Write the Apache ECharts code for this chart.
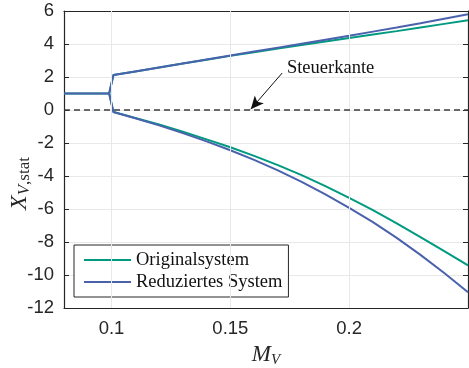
<!DOCTYPE html>
<html>
<head>
<meta charset="utf-8">
<script src="https://cdn.jsdelivr.net/npm/echarts@6/dist/echarts.min.js"></script>
<style>
html,body{margin:0;padding:0;background:#fff;}
#c{width:469px;height:368px;}
</style>
</head>
<body>
<div id="c"></div>
<script>
// ---- data ----
const seriesNames = ['Originalsystem', 'Reduziertes System'];
const mvStart = [0.08, 0.099];
const xStart = [1, 1];
const mv = [0.1008, 0.11, 0.12, 0.13, 0.14, 0.15, 0.16, 0.17, 0.18, 0.19, 0.20, 0.21, 0.22, 0.23, 0.24, 0.25];
const origUpper = [2.12, 2.34, 2.58, 2.82, 3.05, 3.28, 3.50, 3.72, 3.94, 4.15, 4.36, 4.57, 4.78, 5.00, 5.22, 5.44];
const origLower = [-0.12, -0.48, -0.88, -1.32, -1.78, -2.26, -2.78, -3.34, -3.95, -4.61, -5.32, -6.07, -6.87, -7.70, -8.55, -9.42];
const redUpper = [2.12, 2.34, 2.58, 2.82, 3.06, 3.30, 3.54, 3.78, 4.02, 4.26, 4.50, 4.75, 5.00, 5.26, 5.53, 5.80];
const redLower = [-0.12, -0.50, -0.93, -1.40, -1.90, -2.44, -3.02, -3.66, -4.36, -5.12, -5.93, -6.80, -7.75, -8.78, -9.88, -11.05];
const xTicks = [0.1, 0.15, 0.2];
const xMin = 0.08, xMax = 0.25;
const yMin = -12, yMax = 6, yStep = 2;
const steuerkante = 0;
const arrowFrom = [0.1718, 2.24];
const arrowTo = [0.1586, 0.05];
const annotText = 'Steuerkante';
const annotPos = [0.1738, 2.55];

const green = '#009a80';
const blue = '#4a62ad';
const axisCol = '#262626';
const gridCol = '#e8e8e8';

function pairs(xs, ys) { return xs.map((x, i) => [x, ys[i]]); }
const splitPt = [mvStart[mvStart.length - 1], xStart[xStart.length - 1]];

function branch(name, color, data, z) {
  return {
    name: name, type: 'line', data: data, xAxisIndex: 0, yAxisIndex: 0,
    showSymbol: false, symbol: 'none', smooth: false, z: z,
    lineStyle: { color: color, width: 2 }, itemStyle: { color: color },
    emphasis: { disabled: true }, silent: true, animation: false
  };
}

const series = [
  {
    type: 'line', data: [], silent: true, animation: false, z: 1,
    markLine: {
      silent: true, animation: false, symbol: ['none', 'none'],
      lineStyle: { color: gridCol, width: 1, type: 'solid' },
      label: { show: false },
      data: xTicks.map(v => ({ xAxis: v }))
    }
  },
  branch(seriesNames[0], green, [splitPt].concat(pairs(mv, origUpper)), 3),
  branch(seriesNames[0], green, [splitPt].concat(pairs(mv, origLower)), 3),
  branch(seriesNames[0], green, pairs(mvStart, xStart), 3),
  branch(seriesNames[1], blue, [splitPt].concat(pairs(mv, redUpper)), 4),
  branch(seriesNames[1], blue, [splitPt].concat(pairs(mv, redLower)), 4),
  branch(seriesNames[1], blue, pairs(mvStart, xStart), 4),
  {
    type: 'line', data: [], silent: true, animation: false, z: 2,
    markLine: {
      silent: true, animation: false, symbol: ['none', 'none'],
      lineStyle: { color: '#3c3c3c', width: 1.5, type: [6, 4] },
      label: { show: false },
      data: [{ yAxis: steuerkante }]
    }
  },
  {
    type: 'line', data: [], silent: true, animation: false, z: 5,
    markLine: {
      silent: true, animation: false, symbol: ['none', 'arrow'], symbolSize: [9, 13],
      lineStyle: { color: '#111', width: 1, type: 'solid' },
      label: { show: false },
      data: [[{ coord: arrowFrom }, { coord: arrowTo }]]
    },
    markPoint: {
      silent: true, animation: false, symbol: 'circle', symbolSize: 0,
      label: {
        show: true, position: 'right', distance: 0, formatter: annotText,
        fontFamily: 'Liberation Serif', fontSize: 18.5, color: '#111'
      },
      data: [{ coord: annotPos }]
    }
  }
];

const chart = echarts.init(document.getElementById('c'), null, { renderer: 'canvas' });
chart.setOption({
  animation: false,
  backgroundColor: '#fff',
  grid: { left: 64, right: 1, top: 11, bottom: 60, containLabel: false, outerBoundsMode: 'none' },
  legend: {
    data: seriesNames,
    orient: 'vertical', left: 74, top: 245,
    backgroundColor: '#fff', borderColor: axisCol, borderWidth: 1, borderRadius: 0,
    padding: [5, 6, 5, 10], itemGap: 2, itemWidth: 47, itemHeight: 14,
    icon: 'path://M0,6L47,6L47,8L0,8Z',
    textStyle: { fontFamily: 'Liberation Serif', fontSize: 18.5, lineHeight: 20, color: '#111' },
    selectedMode: false
  },
  xAxis: [{
    type: 'value', min: xMin, max: xMax, position: 'bottom',
    axisLine: { show: true, onZero: false, lineStyle: { color: axisCol, width: 1.2 } },
    axisTick: { show: true, inside: true, length: 5, customValues: xTicks, lineStyle: { color: axisCol } },
    axisLabel: { customValues: xTicks, margin: 11, fontFamily: 'Liberation Sans', fontSize: 18.5, color: '#262626',
      formatter: v => String(+v.toFixed(3)) },
    splitLine: { show: false },
    name: '{m|M}{s|V}', nameLocation: 'middle', nameGap: 33,
    nameTextStyle: {
      rich: {
        m: { fontFamily: 'Liberation Serif', fontStyle: 'italic', fontSize: 23, color: '#262626', lineHeight: 26 },
        s: { fontFamily: 'Liberation Serif', fontStyle: 'italic', fontSize: 15, color: '#262626', lineHeight: 26, padding: [10, 0, 0, 0] }
      }
    }
  }, {
    type: 'value', min: xMin, max: xMax, position: 'top',
    axisLine: { show: true, onZero: false, lineStyle: { color: axisCol, width: 1.2 } },
    axisTick: { show: true, inside: true, length: 5, customValues: xTicks, lineStyle: { color: axisCol } },
    axisLabel: { show: false }, splitLine: { show: false }
  }],
  yAxis: [{
    type: 'value', min: yMin, max: yMax, interval: yStep, position: 'left',
    axisLine: { show: true, onZero: false, lineStyle: { color: axisCol, width: 1.2 } },
    axisTick: { show: true, inside: true, length: 5, lineStyle: { color: axisCol } },
    axisLabel: { margin: 10, fontFamily: 'Liberation Sans', fontSize: 18.5, color: '#262626', formatter: v => String(v) },
    splitLine: { show: true, lineStyle: { color: gridCol, width: 1 } },
    name: '{x|X}{s|V}{t|,stat}', nameLocation: 'middle', nameGap: 31, nameRotate: 90, nameMoveOverlap: false,
    nameTextStyle: {
      padding: [0, 48, 0, 0],
      rich: {
        x: { fontFamily: 'Liberation Serif', fontStyle: 'italic', fontSize: 24, color: '#262626', lineHeight: 26 },
        s: { fontFamily: 'Liberation Serif', fontStyle: 'italic', fontSize: 17, color: '#262626', lineHeight: 26, padding: [10, 0, 0, 0] },
        t: { fontFamily: 'Liberation Serif', fontSize: 17, color: '#262626', lineHeight: 26, padding: [10, 0, 0, 0] }
      }
    }
  }, {
    type: 'value', min: yMin, max: yMax, interval: yStep, position: 'right',
    axisLine: { show: true, onZero: false, lineStyle: { color: axisCol, width: 1.2 } },
    axisTick: { show: true, inside: true, length: 5, lineStyle: { color: axisCol } },
    axisLabel: { show: false }, splitLine: { show: false }
  }],
  series: series
});
</script>
</body>
</html>
